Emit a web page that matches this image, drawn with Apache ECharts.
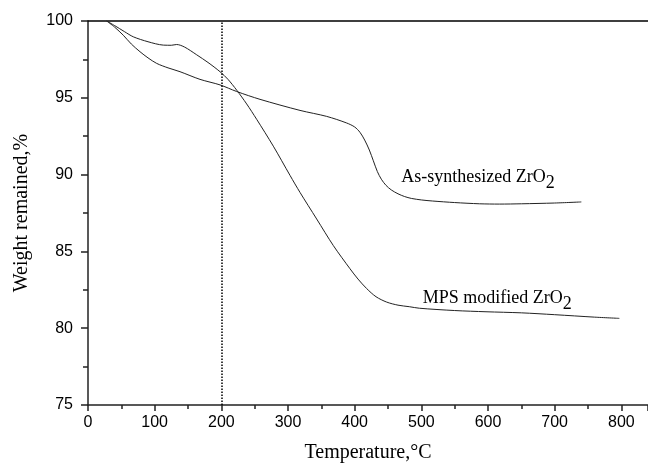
<!DOCTYPE html>
<html>
<head>
<meta charset="utf-8">
<script src="https://cdn.jsdelivr.net/npm/echarts@6/dist/echarts.min.js"></script>
<style>
  html, body { margin: 0; padding: 0; background: #fff; }
  #chart { width: 648px; height: 468px; }
</style>
</head>
<body>
<div id="chart"></div>
<script>
// As-synthesized ZrO2 : temperature / weight
const asTemp = [28, 40, 53, 65, 78, 90, 103, 120, 138, 168, 198, 223, 258, 318, 358, 388, 400, 408, 415, 422, 428, 434, 440, 447, 455, 465, 475, 485, 500, 517, 550, 587, 617, 650, 700, 740]
const asWeight = [100, 99.6, 99.07, 98.5, 98.0, 97.6, 97.24, 96.95, 96.7, 96.2, 95.84, 95.41, 94.9, 94.18, 93.79, 93.36, 93.1, 92.75, 92.25, 91.6, 90.9, 90.2, 89.7, 89.3, 89.0, 88.75, 88.57, 88.45, 88.35, 88.28, 88.18, 88.1, 88.08, 88.1, 88.15, 88.22]
// MPS modified ZrO2
const mpsTemp = [28, 40, 55, 68, 90, 113, 125, 133, 145, 163, 180, 198, 210, 223, 238, 253, 278, 303, 318, 343, 368, 393, 405, 418, 432, 448, 465, 482, 497, 550, 597, 650, 700, 760, 797]
const mpsWeight = [100, 99.7, 99.3, 98.97, 98.65, 98.43, 98.42, 98.47, 98.3, 97.8, 97.3, 96.7, 96.2, 95.5, 94.6, 93.6, 91.85, 89.95, 88.84, 87.11, 85.38, 83.87, 83.2, 82.58, 82.05, 81.7, 81.5, 81.4, 81.3, 81.15, 81.07, 81.0, 80.88, 80.72, 80.64]

const zip = (xs, ys) => xs.map((x, i) => [x, ys[i]])

const serif = 'Liberation Serif'
const sans = 'Liberation Sans'
const labelRich = {
  t: { fontFamily: serif, fontSize: 18, color: '#000' },
  s: { fontFamily: serif, fontSize: 18, color: '#000', padding: [12, 0, 0, 0] }
}

const chart = echarts.init(document.getElementById('chart'))
const option = {
  animation: false,
  grid: { left: 88, top: 21, right: 0, bottom: 61 },
  xAxis: [{
    type: 'value',
    min: 0,
    max: 840,
    interval: 100,
    name: 'Temperature,°C',
    nameLocation: 'middle',
    nameGap: 38,
    nameTextStyle: { fontFamily: serif, fontSize: 20, color: '#000' },
    axisLine: { lineStyle: { color: '#222', width: 1.5 } },
    axisTick: { inside: false, length: 6, lineStyle: { color: '#222', width: 1.5 } },
    minorTick: { show: true, splitNumber: 2, length: 4, lineStyle: { color: '#222', width: 1.5 } },
    axisLabel: { fontFamily: sans, fontSize: 16, color: '#000', margin: 10, showMaxLabel: false },
    splitLine: { show: false }
  }, {
    type: 'value',
    position: 'top',
    min: 0,
    max: 840,
    axisLine: { show: true, lineStyle: { color: '#000', width: 1.5 } },
    axisTick: { show: false },
    axisLabel: { show: false },
    splitLine: { show: false }
  }],
  yAxis: {
    type: 'value',
    min: 75,
    max: 100,
    interval: 5,
    name: 'Weight remained,%',
    nameLocation: 'middle',
    nameGap: 56,
    nameTextStyle: { fontFamily: serif, fontSize: 20, color: '#000' },
    axisLine: { show: true, lineStyle: { color: '#222', width: 1.5 } },
    axisTick: { show: true, length: 7, lineStyle: { color: '#222', width: 1.5 } },
    minorTick: { show: true, splitNumber: 2, length: 5, lineStyle: { color: '#222', width: 1.5 } },
    axisLabel: { fontFamily: sans, fontSize: 16, color: '#000', margin: 15 },
    splitLine: { show: false }
  },
  series: [{
    name: 'As-synthesized ZrO2',
    type: 'line',
    data: zip(asTemp, asWeight),
    smooth: 0.3,
    showSymbol: false,
    lineStyle: { color: '#222', width: 1 },
    markLine: {
      silent: true,
      symbol: 'none',
      label: { show: false },
      lineStyle: { color: '#000', type: 'dotted', width: 1.5 },
      data: [{ xAxis: 200 }]
    },
    markPoint: {
      symbol: 'circle',
      symbolSize: 0,
      label: {
        show: true,
        position: 'right',
        distance: 0,
        formatter: '{t|As-synthesized ZrO}{s|2}',
        rich: labelRich
      },
      data: [{ coord: [470, 89.82] }]
    }
  }, {
    name: 'MPS modified ZrO2',
    type: 'line',
    data: zip(mpsTemp, mpsWeight),
    smooth: 0.3,
    showSymbol: false,
    lineStyle: { color: '#222', width: 1 },
    markPoint: {
      symbol: 'circle',
      symbolSize: 0,
      label: {
        show: true,
        position: 'right',
        distance: 0,
        formatter: '{t|MPS modified ZrO}{s|2}',
        rich: labelRich
      },
      data: [{ coord: [502, 81.93] }]
    }
  }]
}
chart.setOption(option)
</script>
</body>
</html>
